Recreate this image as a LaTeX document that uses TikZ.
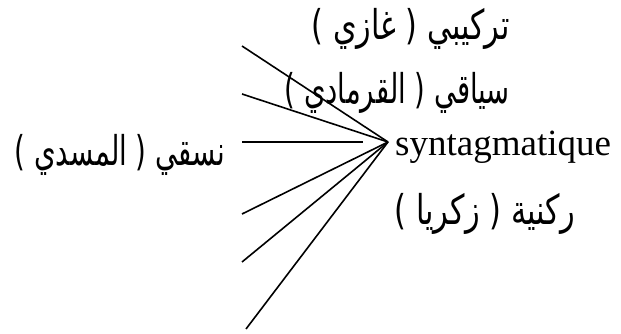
\documentclass[tikz,border=0pt]{standalone}
\usepackage{fontspec}
\usepackage{graphicx}
\setmainfont{Liberation Serif}
\newfontfamily\arabicfont[Script=Arabic]{DejaVu Sans}
\TeXXeTstate=1
\newcommand{\artext}[2]{\resizebox{#1}{\height}{\arabicfont\fontsize{41}{45}\selectfont #2}}
\tikzset{
  ray/.style={line width=1.6pt, black},
  ar/.style={inner sep=0pt, anchor=east},
  lat/.style={font=\fontsize{37}{40}\selectfont, inner sep=0pt}
}
\begin{document}
\begin{tikzpicture}[x=1pt,y=-1pt]
\useasboundingbox (0,0) rectangle (621,334);
\coordinate (apex) at (388,142);
\coordinate (l1) at (242,46);
\coordinate (l2) at (242,94);
\coordinate (l3) at (242,142);
\coordinate (l3e) at (363,142);
\coordinate (l4) at (242,214);
\coordinate (l5) at (242,262);
\coordinate (l6) at (246,329);
\draw[ray] (l1) -- (apex);
\draw[ray] (l2) -- (apex);
\draw[ray] (l3) -- (l3e);
\draw[ray] (l4) -- (apex);
\draw[ray] (l5) -- (apex);
\draw[ray] (l6) -- (apex);
\node[ar] (t1) at (510,29) {\artext{198pt}{\beginR تركيبي ( غازي )\endR}};
\node[ar] (t2) at (510,93) {\artext{225pt}{\beginR سياقي ( القرمادي )\endR}};
\node[ar] (t3) at (225,155) {\artext{210pt}{\beginR نسقي ( المسدي )\endR}};
\node[lat, anchor=base west] (t4) at (395,155) {syntagmatique};
\node[ar] (t5) at (575,214) {\artext{180pt}{\beginR ركنية ( زكريا )\endR}};
\end{tikzpicture}
\end{document}
